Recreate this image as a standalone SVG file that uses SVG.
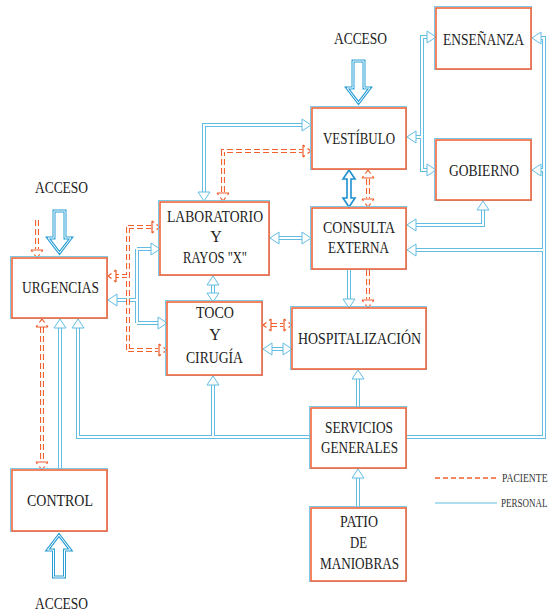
<svg xmlns="http://www.w3.org/2000/svg" xmlns:xlink="http://www.w3.org/1999/xlink" width="554" height="613" viewBox="0 0 554 613">
<style>
.bx{fill:#fff;stroke:#f2663a;stroke-width:1.6}
.bb{fill:none;stroke:#7cc8e8;stroke-width:1}
.t{font-family:"Liberation Serif","DejaVu Serif",serif;font-size:16px;fill:#222}
.ts{font-family:"Liberation Serif","DejaVu Serif",serif;font-size:12px;fill:#333}
.po{fill:none;stroke:#63bde3;stroke-width:4}
.pi{fill:none;stroke:#fff;stroke-width:2}
.oo{fill:none;stroke:#f2602e;stroke-width:4;stroke-dasharray:6 3}
.oi{fill:none;stroke:#fff;stroke-width:1.8}
.big{fill:#fff;stroke:#2a9fd6;stroke-width:3;stroke-linejoin:miter}
.bigi{fill:none;stroke:#fff;stroke-width:1}
</style>
<defs>
<polygon id="hb" points="0,0 -9,-6 -9,6" fill="#fff" stroke="#63bde3" stroke-width="1"/>
<path id="ho" d="M-8,-6 V6 M-8,-6 L-6,-4.5 M-8,6 L-6,4.5 M-3.5,-2.6 L0,0 L-3.5,2.6" fill="none" stroke="#f05a28" stroke-width="1.2"/>
<path id="bpipes" d="M204,192 V125 H302 M278,238 H302 M427,37 H422 V170 H427 M422,137 H416 M541,38 H544 V437 H406 M544,170 H541 M544,250 H416 M483,210 V225 H416 M349,270 V299 M213,284 V293 M271,349 H283 M116,300 H137 M137,249 V323 M137,249 H151 M137,323 H158 M60,470 V327 M78,327 V437 H311 M213,437 V384 M358,408 V378 M358,508 V477"/>
<path id="opipes" d="M37,220 V249 M368,179 V198 M223,192 V151 H302 M368,270 V299 M271,325 H283 M128,227 V350 M128,227 H151 M128,350 H158 M128,276 H116 M42,327 V461"/>
<polygon id="accdown" points="-5.5,-42 5.5,-42 5.5,-15 11.5,-15 0,0 -11.5,-15 -5.5,-15"/>
</defs>
<g id="connectors">
<use xlink:href="#bpipes" class="po"/>
<use xlink:href="#bpipes" class="pi"/>
<use xlink:href="#opipes" class="oo"/>
<use xlink:href="#opipes" class="oi"/>
<g id="blue-heads">
<use xlink:href="#hb" transform="translate(204,201) rotate(90)"/>
<use xlink:href="#hb" transform="translate(311,125)"/>
<use xlink:href="#hb" transform="translate(270,238) rotate(180)"/>
<use xlink:href="#hb" transform="translate(311,238)"/>
<use xlink:href="#hb" transform="translate(436,37)"/>
<use xlink:href="#hb" transform="translate(436,170)"/>
<use xlink:href="#hb" transform="translate(407,137) rotate(180)"/>
<use xlink:href="#hb" transform="translate(532,38) rotate(180)"/>
<use xlink:href="#hb" transform="translate(532,170) rotate(180)"/>
<use xlink:href="#hb" transform="translate(407,250) rotate(180)"/>
<use xlink:href="#hb" transform="translate(483,201) rotate(270)"/>
<use xlink:href="#hb" transform="translate(407,225) rotate(180)"/>
<use xlink:href="#hb" transform="translate(349,308) rotate(90)"/>
<use xlink:href="#hb" transform="translate(213,276) rotate(270)"/>
<use xlink:href="#hb" transform="translate(213,302) rotate(90)"/>
<use xlink:href="#hb" transform="translate(263,349) rotate(180)"/>
<use xlink:href="#hb" transform="translate(292,349)"/>
<use xlink:href="#hb" transform="translate(108,300) rotate(180)"/>
<use xlink:href="#hb" transform="translate(160,249)"/>
<use xlink:href="#hb" transform="translate(167,323)"/>
<use xlink:href="#hb" transform="translate(60,319) rotate(270)"/>
<use xlink:href="#hb" transform="translate(78,319) rotate(270)"/>
<use xlink:href="#hb" transform="translate(213,376) rotate(270)"/>
<use xlink:href="#hb" transform="translate(358,370) rotate(270)"/>
<use xlink:href="#hb" transform="translate(358,469) rotate(270)"/>
</g>
<g id="orange-heads">
<use xlink:href="#ho" transform="translate(37,258) rotate(90)"/>
<use xlink:href="#ho" transform="translate(368,170) rotate(270)"/>
<use xlink:href="#ho" transform="translate(368,207) rotate(90)"/>
<use xlink:href="#ho" transform="translate(223,201) rotate(90)"/>
<use xlink:href="#ho" transform="translate(311,151)"/>
<use xlink:href="#ho" transform="translate(368,308) rotate(90)"/>
<use xlink:href="#ho" transform="translate(263,325) rotate(180)"/>
<use xlink:href="#ho" transform="translate(292,325)"/>
<use xlink:href="#ho" transform="translate(160,227)"/>
<use xlink:href="#ho" transform="translate(167,350)"/>
<use xlink:href="#ho" transform="translate(108,276) rotate(180)"/>
<use xlink:href="#ho" transform="translate(42,319) rotate(270)"/>
<use xlink:href="#ho" transform="translate(42,470) rotate(90)"/>
</g>
<g id="vest-consulta">
<polygon points="349,170 343,179 347,179 347,198 343,198 349,207 355,198 351,198 351,179 355,179 349,170" fill="#fff" stroke="#1e90d0" stroke-width="1.6"/>
</g>
<g id="accesos">
<use xlink:href="#accdown" class="big" transform="translate(358.5,103)"/>
<use xlink:href="#accdown" class="bigi" transform="translate(358.5,103)"/>
<use xlink:href="#accdown" class="big" transform="translate(59.5,253)"/>
<use xlink:href="#accdown" class="bigi" transform="translate(59.5,253)"/>
<use xlink:href="#accdown" class="big" transform="translate(59,535) rotate(180)"/>
<use xlink:href="#accdown" class="bigi" transform="translate(59,535) rotate(180)"/>
</g>
</g>
<g id="acceso-labels">
<text class="t" x="334" y="44" textLength="53" lengthAdjust="spacingAndGlyphs">ACCESO</text>
<text class="t" x="35" y="193" textLength="53" lengthAdjust="spacingAndGlyphs">ACCESO</text>
<text class="t" x="35" y="609" textLength="53" lengthAdjust="spacingAndGlyphs">ACCESO</text>
</g>
<g id="ensenanza">
<rect class="bb" x="434.5" y="6.5" width="97" height="63"/>
<rect class="bx" x="436" y="8" width="95" height="61"/>
<text class="t" x="443" y="45" textLength="81" lengthAdjust="spacingAndGlyphs">ENSEÑANZA</text>
</g>
<g id="gobierno">
<rect class="bb" x="434.5" y="138.5" width="97" height="62"/>
<rect class="bx" x="436" y="140" width="95" height="60"/>
<text class="t" x="449" y="176" textLength="70" lengthAdjust="spacingAndGlyphs">GOBIERNO</text>
</g>
<g id="vestibulo">
<rect class="bb" x="310.5" y="106.5" width="96" height="63"/>
<rect class="bx" x="312" y="108" width="94" height="61"/>
<text class="t" x="323" y="144" textLength="72" lengthAdjust="spacingAndGlyphs">VESTÍBULO</text>
</g>
<g id="consulta">
<rect class="bb" x="310.5" y="206.5" width="96" height="63"/>
<rect class="bx" x="312" y="208" width="94" height="61"/>
<text class="t" x="323" y="233" textLength="72" lengthAdjust="spacingAndGlyphs">CONSULTA</text>
<text class="t" x="328" y="253" textLength="61" lengthAdjust="spacingAndGlyphs">EXTERNA</text>
</g>
<g id="laboratorio">
<rect class="bb" x="158.5" y="200.5" width="111" height="75"/>
<rect class="bx" x="160" y="202" width="109" height="73"/>
<text class="t" x="167" y="222" textLength="96" lengthAdjust="spacingAndGlyphs">LABORATORIO</text>
<text class="t" x="216" y="242" text-anchor="middle">Y</text>
<text class="t" x="183" y="263" textLength="64" lengthAdjust="spacingAndGlyphs">RAYOS "X"</text>
</g>
<g id="urgencias">
<rect class="bb" x="10.5" y="256.5" width="97" height="62"/>
<rect class="bx" x="12" y="258" width="95" height="60"/>
<text class="t" x="22" y="293" textLength="77" lengthAdjust="spacingAndGlyphs">URGENCIAS</text>
</g>
<g id="toco">
<rect class="bb" x="165.5" y="300.5" width="97" height="75"/>
<rect class="bx" x="167" y="302" width="95" height="73"/>
<text class="t" x="196" y="318" textLength="38" lengthAdjust="spacingAndGlyphs">TOCO</text>
<text class="t" x="215" y="340" text-anchor="middle">Y</text>
<text class="t" x="186" y="363" textLength="57" lengthAdjust="spacingAndGlyphs">CIRUGÍA</text>
</g>
<g id="hospitalizacion">
<rect class="bb" x="290.5" y="306.5" width="136" height="63"/>
<rect class="bx" x="292" y="308" width="134" height="61"/>
<text class="t" x="298" y="344" textLength="123" lengthAdjust="spacingAndGlyphs">HOSPITALIZACIÓN</text>
</g>
<g id="servicios">
<rect class="bb" x="309.5" y="406.5" width="97" height="62"/>
<rect class="bx" x="311" y="408" width="95" height="60"/>
<text class="t" x="325" y="433" textLength="68" lengthAdjust="spacingAndGlyphs">SERVICIOS</text>
<text class="t" x="321" y="453" textLength="77" lengthAdjust="spacingAndGlyphs">GENERALES</text>
</g>
<g id="patio">
<rect class="bb" x="309.5" y="506.5" width="97" height="75"/>
<rect class="bx" x="311" y="508" width="95" height="73"/>
<text class="t" x="340" y="527" textLength="38" lengthAdjust="spacingAndGlyphs">PATIO</text>
<text class="t" x="350" y="548" textLength="17" lengthAdjust="spacingAndGlyphs">DE</text>
<text class="t" x="320" y="569" textLength="79" lengthAdjust="spacingAndGlyphs">MANIOBRAS</text>
</g>
<g id="control">
<rect class="bb" x="10.5" y="468.5" width="97" height="63"/>
<rect class="bx" x="12" y="470" width="95" height="61"/>
<text class="t" x="27" y="506" textLength="66" lengthAdjust="spacingAndGlyphs">CONTROL</text>
</g>
<g id="legend">
<path d="M435,478 H497" fill="none" stroke="#f2602e" stroke-width="1.5" stroke-dasharray="5 3"/>
<path d="M435,503 H497" fill="none" stroke="#63bde3" stroke-width="1.2"/>
<text class="ts" transform="translate(502,482) scale(0.8,1)">PACIENTE</text>
<text class="ts" transform="translate(501,507) scale(0.75,1)">PERSONAL</text>
</g>
</svg>
